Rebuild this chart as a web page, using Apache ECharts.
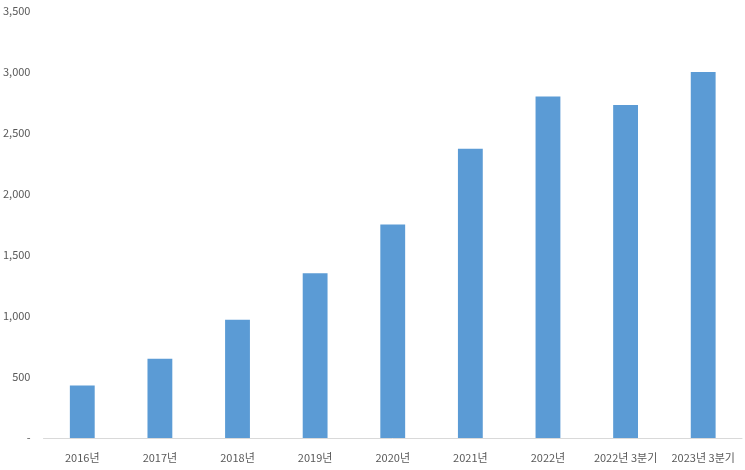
<!DOCTYPE html>
<html>
<head>
<meta charset="utf-8">
<script src="https://cdn.jsdelivr.net/npm/echarts@6/dist/echarts.min.js"></script>
<style>html,body{margin:0;padding:0;background:#fff}#c{width:745px;height:470px}</style>
</head>
<body>
<div id="c"></div>
<script>
const categories = ['2016년','2017년','2018년','2019년','2020년','2021년','2022년','2022년 3분기','2023년 3분기'];
const values = [430, 650, 970, 1350, 1750, 2370, 2800, 2730, 3000];

const chart = echarts.init(document.getElementById('c'));
chart.setOption({
  animation: false,
  grid: {left: 43, right: 3, top: 11, bottom: 32},
  xAxis: {
    type: 'category',
    data: categories,
    axisLine: {lineStyle: {color: '#d9d9d9'}},
    axisTick: {show: false},
    axisLabel: {color: '#595959', fontSize: 11, margin: 14, fontFamily: 'Noto Sans CJK KR', interval: 0}
  },
  yAxis: {
    type: 'value',
    min: 0, max: 3500, interval: 500,
    splitLine: {show: false},
    axisLine: {show: false},
    axisTick: {show: false},
    axisLabel: {
      color: '#595959', fontSize: 11, margin: 13, fontFamily: 'Noto Sans CJK KR',
      formatter: v => v === 0 ? '-' : v.toLocaleString('en-US')
    }
  },
  series: [{
    type: 'bar',
    data: values,
    barWidth: '32%',
    itemStyle: {color: '#5B9BD5'}
  }]
});
</script>
</body>
</html>
